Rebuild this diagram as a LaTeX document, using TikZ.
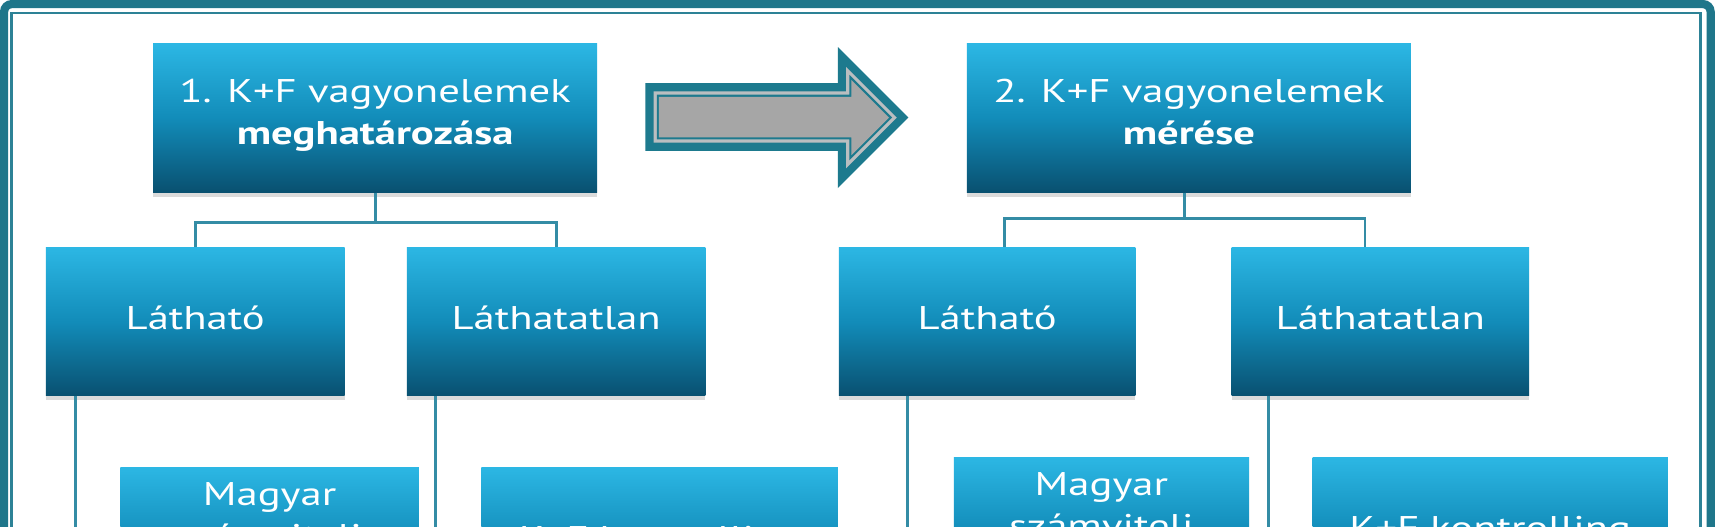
\documentclass[tikz,border=0pt]{standalone}
\usepackage{fontspec}
\setmainfont{PT Sans}[FakeStretch=1.3]
\usetikzlibrary{shadows}
\definecolor{frameteal}{RGB}{31,118,138}
\definecolor{thinteal}{RGB}{45,130,150}
\definecolor{lineteal}{RGB}{52,140,165}
\definecolor{boxtop}{RGB}{44,183,228}
\definecolor{boxmid}{RGB}{18,140,185}
\definecolor{boxbot}{RGB}{9,80,112}
\definecolor{arrowteal}{RGB}{29,122,142}
\definecolor{arrowgray}{RGB}{166,166,166}
\definecolor{arrowlight}{RGB}{186,190,192}
\newcommand{\myarrowpoly}[1]{({590+#1},{76+#1}) -- ({766+#1},{76+#1}) -- ({766+#1},{43+#1+#1*1.4142}) -- ({830.5-#1*1.4142},107.5) -- ({766+#1},{172-#1-#1*1.4142}) -- ({766+#1},{138-#1}) -- ({590+#1},{138-#1}) -- cycle}
\tikzset{
  orgbox/.style={rectangle, inner sep=0pt, minimum height=136pt,
    top color=boxtop, bottom color=boxbot, middle color=boxmid,
    drop shadow={shadow xshift=0pt, shadow yshift=-4pt, opacity=0.28}},
  boxtxt/.style={text=white, inner sep=0pt, font=\fontsize{30}{38.6}\selectfont},
  onetxt/.style={text=white, font=\fontsize{30}{38.6}\selectfont, text height=15pt, text depth=0pt},
  conn/.style={draw=lineteal, line width=2.5pt}
}
\begin{document}
\begin{tikzpicture}[x=1pt, y=-1pt]
\useasboundingbox (0,0) rectangle (1568,481);
\fill[white] (0,0) rectangle (1568,481);
\begin{scope}
\clip (0,0) rectangle (1568,481);
% frame
\draw[frameteal, line width=7.5pt, rounded corners=7pt] (3.75,3.75) rectangle (1564,560);
\draw[thinteal, line width=2.5pt] (10.5,11.8) rectangle (1554.5,560);
% arrow
\fill[arrowteal] \myarrowpoly{0};
\fill[arrowlight] \myarrowpoly{7.5};
\fill[arrowteal] \myarrowpoly{10.5};
\fill[arrowgray] \myarrowpoly{12.5};
% top boxes
\node[orgbox, minimum width=406pt] (b1) at (343,108) {};
\node[orgbox, minimum width=406pt] (b2) at (1087,108) {};
\node[boxtxt, anchor=base] (b1a) at (343,94) {1. K+F vagyonelemek};
\node[boxtxt, anchor=base, font=\fontsize{30}{38.6}\selectfont\bfseries] (b1b) at (343,132.5) {meghatározása};
\node[boxtxt, anchor=base] (b2a) at (1087,94) {2. K+F vagyonelemek};
\node[boxtxt, anchor=base, font=\fontsize{30}{38.6}\selectfont\bfseries] (b2b) at (1087,132.5) {mérése};
% second row
\node[orgbox, minimum width=273pt, onetxt] (l1) at (178.5,294) {Látható};
\node[orgbox, minimum width=273pt, onetxt] (l2) at (508.5,294) {Láthatatlan};
\node[orgbox, minimum width=271pt, onetxt] (r1) at (902.5,294) {Látható};
\node[orgbox, minimum width=272pt, onetxt] (r2) at (1262,294) {Láthatatlan};
% third row
\node[orgbox, minimum width=273pt] (m1) at (246.5,495) {};
\node[orgbox, minimum width=326pt, onetxt] (k1) at (603,495) {K+F kontrolling};
\node[orgbox, minimum width=270pt] (m2) at (1007,486) {};
\node[orgbox, minimum width=325pt, onetxt] (k2) at (1362.5,486) {K+F kontrolling};
\node[boxtxt, anchor=base] (m1a) at ([yshift=-35pt]m1.north) {Magyar};
\node[boxtxt, anchor=base] (m1b) at ([yshift=-73.5pt]m1.north) {számviteli};
\node[boxtxt, anchor=base] (m2a) at ([yshift=-35pt]m2.north) {Magyar};
\node[boxtxt, anchor=base] (m2b) at ([yshift=-73.5pt]m2.north) {számviteli};
% connectors
\draw[conn] (b1.south) -- ++(0,27) -| (l1.north);
\draw[conn] (b1.south) -- ++(0,27) -| (l2.north);
\draw[conn] ([xshift=-4pt]b2.south) -- ++(0,23.5) -| ([xshift=16pt]r1.north);
\draw[conn] ([xshift=-4pt]b2.south) -- ++(0,23.5) -| ([xshift=-14pt]r2.north);
\draw[conn] ([xshift=27.5pt]l1.south west) |- (m1.west);
\draw[conn] ([xshift=26.5pt]l2.south west) |- (k1.west);
\draw[conn] ([xshift=63pt]r1.south west) |- (m2.west);
\draw[conn] ([xshift=34pt]r2.south west) |- (k2.west);
\end{scope}
\end{tikzpicture}
\end{document}
